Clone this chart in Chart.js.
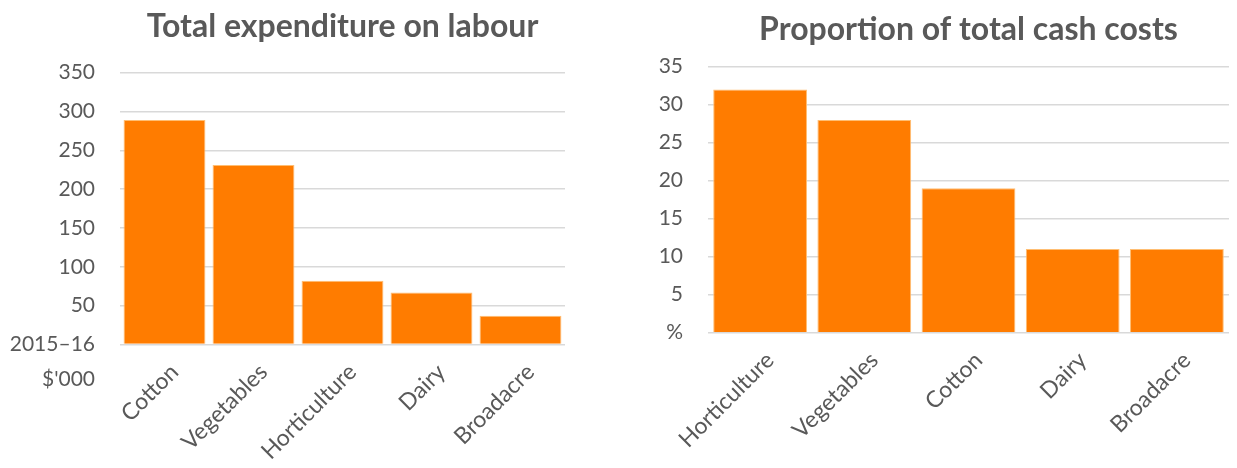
<!DOCTYPE html>
<html lang="en">
<head>
  <meta charset="UTF-8">
  <title>Labour costs by industry</title>
  <script src="https://cdn.jsdelivr.net/npm/chart.js"></script>
  <style>
    body { margin: 0; background: #fff; }
    .row { display: flex; width: 1237px; height: 468px; }
  </style>
</head>
<body>

<div class="row">
  <canvas id="labourChart" width="618" height="468"></canvas>
  <canvas id="shareChart" width="619" height="468"></canvas>
</div>

<script>
  // total expenditure on labour, 2015-16 $'000
  var labourCategories = ['Cotton', 'Vegetables', 'Horticulture', 'Dairy', 'Broadacre'];
  var labourValues = [289, 231, 82, 67, 37];
  var labourZeroLabel = ['2015–16', "$'000"];

  // labour as a share of total cash costs, %
  var shareCategories = ['Horticulture', 'Vegetables', 'Cotton', 'Dairy', 'Broadacre'];
  var shareValues = [32, 28, 19, 11, 11];
  var shareZeroLabel = ['%'];

  Chart.defaults.font.family = 'Lato, "Open Sans", sans-serif';
  Chart.defaults.color = '#595959';

  var TICK_FONT = { size: 21 };
  var TICK_LINE = 35;

  // the unit label sits at the 0 tick; extra lines go underneath it
  var unitLines = {
    id: 'unitLines',
    afterDraw: function(chart, args, opts) {
      var lines = opts.lines || [];
      if (lines.length < 2) return;
      var y = chart.scales.y;
      var ctx = chart.ctx;
      ctx.save();
      ctx.font = TICK_FONT.size + 'px ' + Chart.defaults.font.family;
      ctx.fillStyle = '#595959';
      ctx.textAlign = 'right';
      ctx.textBaseline = 'middle';
      var x = y.right - opts.pad;
      var base = y.getPixelForValue(0);
      for (var i = 1; i < lines.length; i++) {
        ctx.fillText(lines[i], x, base + i * TICK_LINE);
      }
      ctx.restore();
    }
  };

  function makeChart(id, title, categories, values, max, zeroLabel, g) {
    var ctx = document.getElementById(id).getContext('2d');
    return new Chart(ctx, {
      type: 'bar',
      data: {
        labels: categories,
        datasets: [{
          data: values,
          backgroundColor: '#ff7c00',
          borderColor: '#ffbe73',
          borderWidth: 1,
          barPercentage: 1,
          categoryPercentage: g.cat
        }]
      },
      options: {
        responsive: false,
        animation: false,
        layout: { padding: { left: 0, right: g.right, top: 0, bottom: 0 } },
        scales: {
          y: {
            min: 0,
            max: max,
            ticks: {
              stepSize: max / 7,
              padding: 25,
              font: TICK_FONT,
              callback: function(v) { return v === 0 ? zeroLabel[0] : v; }
            },
            grid: { color: '#d9d9d9', lineWidth: 1.5, drawTicks: false },
            border: { display: false },
            afterFit: function(s) { s.width = g.yWidth; }
          },
          x: {
            ticks: {
              minRotation: 45,
              maxRotation: 45,
              autoSkip: false,
              padding: 6,
              labelOffset: 10,
              font: { size: 23 }
            },
            grid: { display: false },
            border: { display: false },
            afterFit: function(s) { s.height = g.xHeight; }
          }
        },
        plugins: {
          legend: { display: false },
          tooltip: { enabled: false },
          title: {
            display: true,
            text: title,
            fullSize: false,
            color: '#595959',
            font: { size: 32, weight: 'bold' },
            padding: { top: g.titleTop, bottom: g.titleBottom }
          },
          unitLines: { lines: zeroLabel, pad: 25 }
        }
      },
      plugins: [unitLines]
    });
  }

  makeChart('labourChart', 'Total expenditure on labour', labourCategories, labourValues, 350, labourZeroLabel,
    { yWidth: 120, xHeight: 123.5, right: 53, cat: 0.92, titleTop: 7, titleBottom: 27.3 });

  makeChart('shareChart', 'Proportion of total cash costs', shareCategories, shareValues, 35, shareZeroLabel,
    { yWidth: 90, xHeight: 135.3, right: 8, cat: 0.9, titleTop: 10, titleBottom: 18.3 });
</script>

</body>
</html>
